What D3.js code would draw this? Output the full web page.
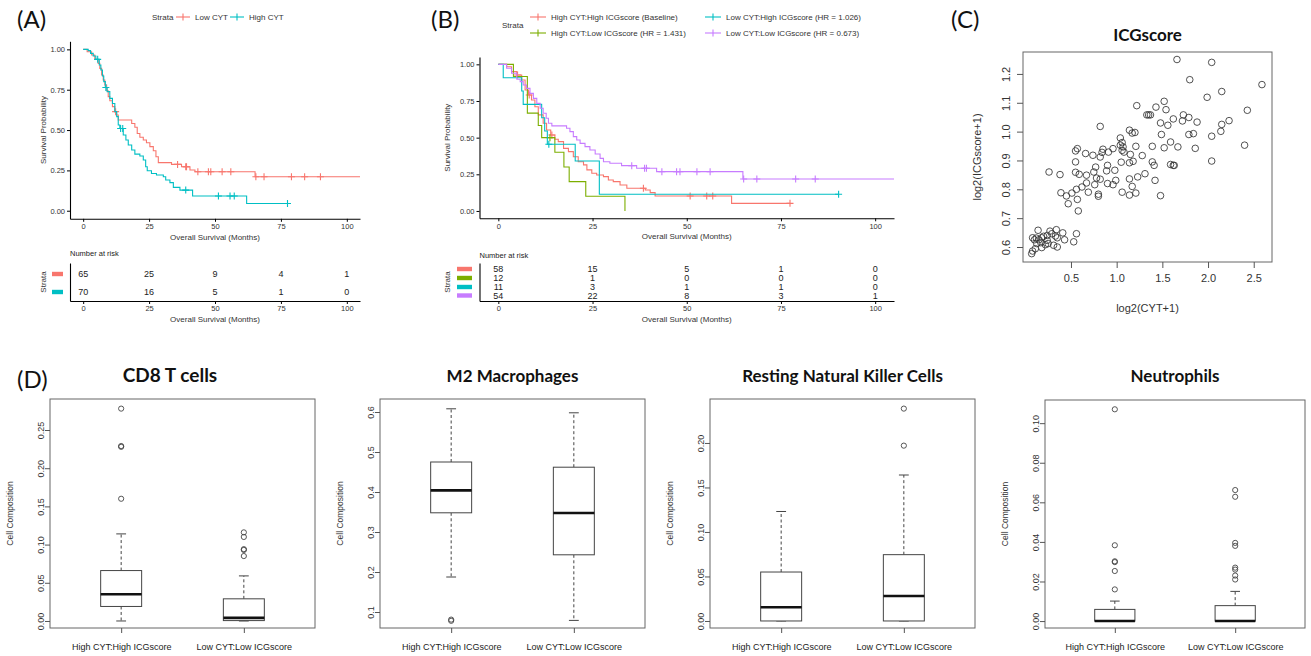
<!DOCTYPE html>
<html>
<head>
<meta charset="utf-8">
<script src="https://cdn.jsdelivr.net/npm/d3@7"></script>
<style>
  body { margin: 0; background: #fff; }
  text { font-family: "Liberation Sans", Arial, sans-serif; }
</style>
</head>
<body>
<svg id="fig" width="1311" height="656"></svg>
<script>
// ---------- data ----------
var kmXTicks = [0, 25, 50, 75, 100];
var kmYTicks = [0, 0.25, 0.5, 0.75, 1];

// (A) Low CYT vs High CYT
var aLowT = [0,1.5,3.2,4.4,5.7,6.3,7.0,7.6,8.2,8.9,9.5,10.1,11.1,12.0,12.7,13.3,18.4,19.6,20.5,21.5,22.8,24.0,25.3,26.6,27.6,28.5,33.5,37.3,40.5,42.4,65.2];
var aLowS = [1,0.985,0.965,0.938,0.913,0.882,0.841,0.81,0.779,0.744,0.707,0.682,0.645,0.614,0.593,0.562,0.541,0.517,0.479,0.455,0.438,0.421,0.397,0.372,0.335,0.298,0.287,0.273,0.252,0.242,0.211];
var aLowCens = [12.3,35.8,38.9,39.2,43.5,47.5,48.4,52.7,56.0,65.5,68.6,79.0,84.0,90.0];
var aLowEnd = 105;
var aHighT = [0,1.9,2.8,3.8,4.8,6.1,6.7,7.3,7.8,8.4,9.1,10.1,11.1,12.0,12.7,13.3,13.9,15.2,16.2,17.1,18.4,19.6,21.5,22.8,23.7,24.3,25.9,27.8,30.4,31.3,32.9,34.2,36.7,41.5,62.0];
var aHighS = [1,0.992,0.975,0.959,0.938,0.903,0.872,0.835,0.80,0.764,0.738,0.696,0.665,0.614,0.583,0.531,0.51,0.469,0.438,0.407,0.376,0.351,0.339,0.314,0.273,0.248,0.231,0.221,0.211,0.19,0.174,0.145,0.128,0.091,0.045];
var aHighCens = [5.5,8.6,14.2,15.0,38.9,51.3,55.7,57.3,77.5];
var aHighEnd = 77.5;
var aStrata = ["Low CYT", "High CYT"];
var aRisk = [[65,25,9,4,1],[70,16,5,1,0]];

// (B) four CYT:ICGscore groups
var bRedT = [0,2.2,3.5,4.9,6.2,7.1,8.0,8.8,9.7,10.6,11.9,12.8,13.9,15.0,15.9,17.3,18.6,19.9,21.2,22.6,23.5,24.8,26.1,27.9,29.2,30.5,32.3,34.1,39.0,40.3,41.6,61.9];
var bRedS = [1,0.984,0.95,0.927,0.893,0.825,0.791,0.757,0.711,0.655,0.598,0.552,0.518,0.489,0.473,0.427,0.405,0.37,0.336,0.314,0.28,0.257,0.245,0.234,0.211,0.20,0.177,0.155,0.143,0.125,0.102,0.052];
var bRedCens = [5.1,8.2,14.2,38.5,50.9,55.3,56.9,77.4];
var bRedEnd = 77.4;
var bGreenT = [0,4.0,7.7,10.6,11.5,15.0,17.4,18.8,23.2,33.6];
var bGreenS = [1,0.917,0.667,0.583,0.50,0.40,0.30,0.20,0.10,0];
var bGreenCens = [13.7];
var bGreenEnd = 33.6;
var bCyanT = [0,1.3,6.2,6.6,11.5,12.3,13.0,20.4,26.8];
var bCyanS = [1,0.909,0.818,0.727,0.636,0.545,0.455,0.341,0.114];
var bCyanCens = [13.4,90.3];
var bCyanEnd = 90.3;
var bPurpleT = [0,2.2,3.5,4.9,5.8,6.6,7.5,8.4,9.3,10.2,11.1,11.9,12.7,13.3,14.2,18.1,19.0,19.9,20.8,21.7,23.0,24.3,25.7,27.0,27.9,29.6,32.7,36.7,42.0,64.9];
var bPurpleS = [1,0.973,0.939,0.898,0.882,0.859,0.836,0.802,0.768,0.734,0.70,0.666,0.632,0.598,0.58,0.564,0.541,0.507,0.484,0.461,0.439,0.416,0.389,0.359,0.336,0.325,0.309,0.291,0.268,0.218];
var bPurpleCens = [35.4,38.8,39.3,43.4,47.3,48.2,52.7,56.2,65.1,68.6,78.9,84.1];
var bPurpleEnd = 105;
var bStrata = ["High CYT:High ICGscore (Baseline)", "High CYT:Low ICGscore (HR = 1.431)",
               "Low CYT:High ICGscore (HR = 1.026)", "Low CYT:Low ICGscore (HR = 0.673)"];
var bRisk = [[58,15,5,1,0],[12,1,0,0,0],[11,3,1,1,0],[54,22,8,3,1]];

// (C) scatter
var cytVals = [1.66,2.04,1.80,2.59,2.15,1.99,1.52,1.22,1.43,1.54,2.43,1.33,1.35,1.37,1.73,1.79,1.62,1.48,1.56,1.72,
  1.88,2.23,2.15,2.14,1.79,1.84,1.49,2.04,1.14,1.17,1.20,0.82,1.04,0.96,0.91,0.85,0.84,1.04,1.06,1.07,
  1.06,1.08,1.21,1.39,1.52,1.59,1.67,1.86,2.40,0.57,0.55,0.66,0.82,0.74,1.28,1.15,1.05,1.14,1.18,1.39,
  1.41,1.59,1.62,1.63,2.04,0.26,0.38,0.55,0.59,0.67,0.55,0.75,0.77,0.78,0.89,0.98,0.90,1.31,1.23,1.14,
  1.42,0.96,0.99,0.82,0.76,0.67,0.62,0.56,0.69,0.39,0.45,0.51,0.47,0.57,0.90,0.80,0.80,1.06,1.14,1.17,
  1.21,1.48,0.58,0.08,0.10,0.12,0.14,0.15,0.18,0.17,0.11,0.08,0.07,0.20,0.24,0.24,0.22,0.27,0.29,0.25,
  0.34,0.33,0.35,0.31,0.35,0.18,0.41,0.43,0.53,0.56,0.125];
var icgVals = [1.25,1.24,1.18,1.163,1.139,1.119,1.105,1.09,1.085,1.076,1.074,1.058,1.058,1.058,1.058,1.049,1.044,1.03,1.022,1.037,
  1.033,1.038,1.025,1.001,0.99,0.993,0.99,0.984,1.005,0.995,0.997,1.018,0.978,0.941,0.929,0.939,0.928,0.953,0.962,0.947,
  0.935,0.929,0.949,0.949,0.944,0.964,0.947,0.942,0.953,0.941,0.933,0.924,0.912,0.918,0.917,0.921,0.894,0.892,0.897,0.895,
  0.883,0.886,0.883,0.883,0.898,0.86,0.851,0.859,0.852,0.849,0.895,0.86,0.877,0.839,0.864,0.866,0.883,0.854,0.843,0.836,
  0.831,0.816,0.831,0.835,0.816,0.822,0.808,0.80,0.79,0.788,0.777,0.787,0.75,0.765,0.82,0.776,0.783,0.79,0.78,0.81,
  0.787,0.778,0.725,0.632,0.625,0.631,0.658,0.625,0.632,0.615,0.594,0.586,0.577,0.637,0.64,0.623,0.608,0.655,0.646,0.612,
  0.66,0.638,0.632,0.606,0.60,0.598,0.649,0.625,0.618,0.646,0.612];
var cXTicks = [0.5, 1.0, 1.5, 2.0, 2.5];
var cYTicks = [0.6, 0.7, 0.8, 0.9, 1.0, 1.1, 1.2];

// (D) box plots: [lower whisker, Q1, median, Q3, upper whisker]
var boxGroups = ["High CYT:High ICGscore", "Low CYT:Low ICGscore"];
var boxTitles = ["CD8 T cells", "M2 Macrophages", "Resting Natural Killer Cells", "Neutrophils"];
var cd8High = [0, 0.019, 0.035, 0.066, 0.114], cd8HighOut = [0.278, 0.229, 0.228, 0.16];
var cd8Low = [0, 0.0005, 0.004, 0.029, 0.059], cd8LowOut = [0.116, 0.110, 0.094, 0.093, 0.085];
var m2High = [0.1875, 0.348, 0.404, 0.475, 0.608], m2HighOut = [0.081, 0.078];
var m2Low = [0.079, 0.243, 0.3475, 0.462, 0.598], m2LowOut = [];
var nkHigh = [0, 0, 0.0154, 0.055, 0.123], nkHighOut = [];
var nkLow = [0, 0, 0.028, 0.0745, 0.164], nkLowOut = [0.2386, 0.197];
var neuHigh = [0, 0, 0, 0.0059, 0.0101], neuHighOut = [0.107, 0.0383, 0.0302, 0.0298, 0.0253, 0.016];
var neuLow = [0, 0, 0, 0.0078, 0.015], neuLowOut = [0.0662, 0.0628, 0.0395, 0.038, 0.027, 0.026, 0.023, 0.021];
var cd8Ticks = [0, 0.05, 0.10, 0.15, 0.20, 0.25];
var m2Ticks = [0.1, 0.2, 0.3, 0.4, 0.5, 0.6];
var nkTicks = [0, 0.05, 0.10, 0.15, 0.20];
var neuTicks = [0, 0.02, 0.04, 0.06, 0.08, 0.10];

// ggplot default hues
var RED = "#F8766D", GREEN = "#7CAE00", CYAN = "#00BFC4", PURPLE = "#C77CFF";
var TITLE_FONT = "Lato, 'Open Sans', sans-serif";

var svg = d3.select("#fig");

// ---------- helpers ----------
function survAt(times, surv, t) {
  var s = surv[0];
  for (var i = 0; i < times.length; i++) if (times[i] <= t) s = surv[i];
  return s;
}

function styleAxis(g, size) {
  g.select(".domain").attr("stroke", "#000").attr("stroke-width", 1.1);
  g.selectAll(".tick line").attr("stroke", "#000");
  g.selectAll(".tick text").attr("fill", "#333").style("font-size", size + "px")
    .style("font-family", "'Liberation Sans', Arial, sans-serif");
}

function kmPanel(o) {
  var x = d3.scaleLinear().domain([-5, 105]).range([o.x0, o.x1]);
  var y = d3.scaleLinear().domain([-0.05, 1.05]).range([o.yb, o.yt]);
  var g = svg.append("g");
  var line = d3.line().x(d => x(d[0])).y(d => y(d[1])).curve(d3.curveStepAfter);

  o.curves.forEach(function (c) {
    var pts = c.t.map((t, i) => [t, c.s[i]]);
    pts.push([c.end, c.s[c.s.length - 1]]);
    g.append("path").datum(pts).attr("d", line)
      .attr("fill", "none").attr("stroke", c.color).attr("stroke-width", 1.1);
    g.selectAll(null).data(c.cens).enter().append("path")
      .attr("d", function (t) {
        var cx = x(t), cy = y(survAt(c.t, c.s, t));
        return "M" + (cx - 3.5) + "," + cy + "h7M" + cx + "," + (cy - 3.5) + "v7";
      })
      .attr("stroke", c.color).attr("stroke-width", 1.1);
  });

  var ya = g.append("g").attr("transform", "translate(" + o.x0 + ",0)")
    .call(d3.axisLeft(y).tickValues(kmYTicks).tickFormat(d3.format(".2f")).tickSize(3).tickSizeOuter(0).tickPadding(2));
  styleAxis(ya, 7.5);
  var xa = g.append("g").attr("transform", "translate(0," + o.yb + ")")
    .call(d3.axisBottom(x).tickValues(kmXTicks).tickSize(3).tickSizeOuter(0).tickPadding(2));
  styleAxis(xa, 7.5);

  g.append("text").attr("transform", "translate(" + o.ylabX + "," + (o.yt + o.yb) / 2 + ") rotate(-90)")
    .attr("text-anchor", "middle").attr("dy", "0.35em").style("font-size", "8px").attr("fill", "#333")
    .text("Survival Probability");
  g.append("text").attr("x", (o.x0 + o.x1) / 2).attr("y", o.yb + 21)
    .attr("text-anchor", "middle").style("font-size", "8px").attr("fill", "#333")
    .text("Overall Survival (Months)");

  // number at risk table
  var t = svg.append("g");
  t.append("text").attr("x", o.x0).attr("y", o.riskTitleY).style("font-size", "7.5px").attr("fill", "#222")
    .text("Number at risk");
  o.risk.forEach(function (row, r) {
    var ry = o.riskRows[r];
    t.append("rect").attr("x", o.swX).attr("y", ry - 2.2).attr("width", o.swW).attr("height", 4.4)
      .attr("fill", o.curves[r].color);
    t.selectAll(null).data(row).enter().append("text")
      .attr("x", (d, i) => x(kmXTicks[i])).attr("y", ry).attr("dy", "0.35em")
      .attr("text-anchor", "middle").style("font-size", o.riskFont + "px").attr("fill", "#222")
      .text(d => d);
  });
  var ry = d3.scaleLinear().range([o.riskBottom, o.riskTop]);
  var tya = t.append("g").attr("transform", "translate(" + o.x0 + ",0)")
    .call(d3.axisLeft(ry).tickValues([]).tickSizeOuter(0));
  styleAxis(tya, 7.5);
  var txa = t.append("g").attr("transform", "translate(0," + o.riskBottom + ")")
    .call(d3.axisBottom(x).tickValues(kmXTicks).tickSize(3).tickSizeOuter(0).tickPadding(2));
  styleAxis(txa, 7.5);
  t.append("text").attr("x", (o.x0 + o.x1) / 2).attr("y", o.riskBottom + 21)
    .attr("text-anchor", "middle").style("font-size", "8px").attr("fill", "#333")
    .text("Overall Survival (Months)");
  t.append("text").attr("transform", "translate(" + o.ylabX + "," + (o.riskTop + o.riskBottom) / 2 + ") rotate(-90)")
    .attr("text-anchor", "middle").attr("dy", "0.35em").style("font-size", "8px").attr("fill", "#333")
    .text("Strata");
}

function legendKey(g, x, y, color, label, w) {
  g.append("path").attr("d", "M" + x + "," + y + "h" + w).attr("stroke", color).attr("stroke-width", 1.1);
  g.append("path").attr("d", "M" + (x + w / 2) + "," + (y - 3.5) + "v7").attr("stroke", color).attr("stroke-width", 1.1);
  g.append("text").attr("x", x + w + 5).attr("y", y).attr("dy", "0.35em")
    .style("font-size", "8px").attr("fill", "#333").text(label);
}

function boxPanel(o) {
  var x = d3.scaleLinear().domain([0.42, 2.58]).range([o.left, o.right]);
  var y = d3.scaleLinear().domain(o.yDom).range([o.bottom, o.top]);
  var g = svg.append("g");
  var hw = x(1.167) - x(1), sw = x(1.04) - x(1);

  g.append("text").attr("x", o.titleX || (o.left + o.right) / 2).attr("y", 382).attr("text-anchor", "middle")
    .style("font-family", TITLE_FONT).style("font-weight", "700").style("font-size", (o.titleSize || 17) + "px")
    .attr("fill", "#111").text(o.title);

  o.stats.forEach(function (st, i) {
    var cx = x(i + 1);
    g.append("line").attr("x1", cx).attr("x2", cx).attr("y1", y(st[3])).attr("y2", y(st[4]))
      .attr("stroke", "#444").attr("stroke-dasharray", "3,2.5");
    g.append("line").attr("x1", cx).attr("x2", cx).attr("y1", y(st[1])).attr("y2", y(st[0]))
      .attr("stroke", "#444").attr("stroke-dasharray", "3,2.5");
    [st[0], st[4]].forEach(function (v) {
      g.append("line").attr("x1", cx - sw).attr("x2", cx + sw).attr("y1", y(v)).attr("y2", y(v))
        .attr("stroke", "#444");
    });
    g.append("rect").attr("x", cx - hw).attr("width", 2 * hw)
      .attr("y", y(st[3])).attr("height", Math.max(0.5, y(st[1]) - y(st[3])))
      .attr("fill", "#fff").attr("stroke", "#444");
    g.append("line").attr("x1", cx - hw).attr("x2", cx + hw).attr("y1", y(st[2])).attr("y2", y(st[2]))
      .attr("stroke", "#111").attr("stroke-width", 2.6);
    g.selectAll(null).data(o.outs[i]).enter().append("circle")
      .attr("cx", cx).attr("cy", d => y(d)).attr("r", 2.6)
      .attr("fill", "none").attr("stroke", "#444").attr("stroke-width", 0.9);
  });

  g.append("rect").attr("x", o.left).attr("y", o.top).attr("width", o.right - o.left).attr("height", o.bottom - o.top)
    .attr("fill", "none").attr("stroke", "#666").attr("stroke-width", 1);

  var ya = g.append("g").attr("transform", "translate(" + o.left + ",0)")
    .call(d3.axisLeft(y).tickValues(o.ticks).tickFormat(d3.format(o.fmt)).tickSize(5).tickSizeOuter(0));
  ya.select(".domain").remove();
  ya.selectAll(".tick line").attr("stroke", "#555");
  ya.selectAll(".tick text").attr("x", 0).attr("dy", 0).attr("text-anchor", "middle")
    .attr("transform", "translate(-6.5,0) rotate(-90)").attr("fill", "#333")
    .style("font-size", "9px").style("font-family", "'Liberation Sans', Arial, sans-serif");

  var xa = g.append("g").attr("transform", "translate(0," + o.bottom + ")")
    .call(d3.axisBottom(x).tickValues([1, 2]).tickFormat((d, i) => boxGroups[i]).tickSize(5).tickSizeOuter(0).tickPadding(11));
  xa.select(".domain").remove();
  xa.selectAll(".tick line").attr("stroke", "#555");
  xa.selectAll(".tick text").attr("fill", "#222").style("font-size", "9px")
    .style("font-family", "'Liberation Sans', Arial, sans-serif");

  g.append("text").attr("transform", "translate(" + (o.left - 37) + "," + (o.top + o.bottom) / 2 + ") rotate(-90)")
    .attr("text-anchor", "middle").style("font-size", "8.5px").attr("fill", "#333").text("Cell Composition");
}

// ---------- panel labels ----------
[["(A)", 17, 28], ["(B)", 431, 28], ["(C)", 951, 28], ["(D)", 17, 388]].forEach(function (p) {
  svg.append("text").attr("x", p[1]).attr("y", p[2]).style("font-family", TITLE_FONT)
    .style("font-size", "24px").attr("fill", "#111").text(p[0]);
});

// ---------- (A) ----------
kmPanel({
  x0: 70, x1: 360, yt: 41.3, yb: 218.8, ylabX: 43,
  curves: [
    { t: aLowT, s: aLowS, cens: aLowCens, end: aLowEnd, color: RED },
    { t: aHighT, s: aHighS, cens: aHighCens, end: aHighEnd, color: CYAN }
  ],
  risk: aRisk, riskRows: [274, 292], riskTitleY: 256, riskTop: 263, riskBottom: 301,
  riskFont: 9, swX: 52, swW: 11
});
var legA = svg.append("g");
legA.append("text").attr("x", 152).attr("y", 17).attr("dy", "0.35em").style("font-size", "8px")
  .attr("fill", "#333").text("Strata");
legendKey(legA, 176, 17, RED, aStrata[0], 14);
legendKey(legA, 230, 17, CYAN, aStrata[1], 14);

// ---------- (B) ----------
kmPanel({
  x0: 479.5, x1: 894, yt: 57, yb: 218.3, ylabX: 447,
  curves: [
    { t: bRedT, s: bRedS, cens: bRedCens, end: bRedEnd, color: RED },
    { t: bGreenT, s: bGreenS, cens: bGreenCens, end: bGreenEnd, color: GREEN },
    { t: bCyanT, s: bCyanS, cens: bCyanCens, end: bCyanEnd, color: CYAN },
    { t: bPurpleT, s: bPurpleS, cens: bPurpleCens, end: bPurpleEnd, color: PURPLE }
  ],
  risk: bRisk, riskRows: [269, 278, 287, 295.5], riskTitleY: 258, riskTop: 263, riskBottom: 301,
  riskFont: 9, swX: 457, swW: 15
});
var legB = svg.append("g");
legB.append("text").attr("x", 502).attr("y", 25).attr("dy", "0.35em").style("font-size", "8px")
  .attr("fill", "#333").text("Strata");
legendKey(legB, 530, 17, RED, bStrata[0], 16);
legendKey(legB, 530, 33, GREEN, bStrata[1], 16);
legendKey(legB, 705, 17, CYAN, bStrata[2], 16);
legendKey(legB, 705, 33, PURPLE, bStrata[3], 16);

// ---------- (C) ----------
(function () {
  var L = 1023, R = 1272, T = 52, B = 262;
  var x = d3.scaleLinear().domain([-0.025, 2.70]).range([L, R]);
  var y = d3.scaleLinear().domain([0.548, 1.276]).range([B, T]);
  var g = svg.append("g");
  g.append("text").attr("x", (L + R) / 2).attr("y", 41).attr("text-anchor", "middle")
    .style("font-family", TITLE_FONT).style("font-weight", "700").style("font-size", "17px")
    .attr("fill", "#111").text("ICGscore");
  g.selectAll("circle").data(cytVals).enter().append("circle")
    .attr("cx", d => x(d)).attr("cy", (d, i) => y(icgVals[i])).attr("r", 3.3)
    .attr("fill", "none").attr("stroke", "#333").attr("stroke-width", 0.85);
  g.append("rect").attr("x", L).attr("y", T).attr("width", R - L).attr("height", B - T)
    .attr("fill", "none").attr("stroke", "#666");
  var xa = g.append("g").attr("transform", "translate(0," + B + ")")
    .call(d3.axisBottom(x).tickValues(cXTicks).tickFormat(d3.format(".1f")).tickSize(6).tickPadding(6));
  xa.select(".domain").remove();
  xa.selectAll(".tick line").attr("stroke", "#555");
  xa.selectAll(".tick text").attr("fill", "#333").style("font-size", "11px")
    .style("font-family", "'Liberation Sans', Arial, sans-serif");
  var ya = g.append("g").attr("transform", "translate(" + L + ",0)")
    .call(d3.axisLeft(y).tickValues(cYTicks).tickFormat(d3.format(".1f")).tickSize(6));
  ya.select(".domain").remove();
  ya.selectAll(".tick line").attr("stroke", "#555");
  ya.selectAll(".tick text").attr("x", 0).attr("dy", 0).attr("text-anchor", "middle")
    .attr("transform", "translate(-13,0) rotate(-90)").attr("fill", "#333")
    .style("font-size", "11px").style("font-family", "'Liberation Sans', Arial, sans-serif");
  g.append("text").attr("x", (L + R) / 2).attr("y", 312).attr("text-anchor", "middle")
    .style("font-size", "11px").attr("fill", "#333").text("log2(CYT+1)");
  g.append("text").attr("transform", "translate(981," + (T + B) / 2 + ") rotate(-90)")
    .attr("text-anchor", "middle").style("font-size", "11px").attr("fill", "#333").text("log2(ICGscore+1)");
})();

// ---------- (D) ----------
boxPanel({ title: boxTitles[0], titleX: 170, titleSize: 19, left: 50, right: 315, top: 399, bottom: 628, yDom: [-0.0092, 0.2906],
  ticks: cd8Ticks, fmt: ".2f", stats: [cd8High, cd8Low], outs: [cd8HighOut, cd8LowOut] });
boxPanel({ title: boxTitles[1], left: 380, right: 645, top: 399, bottom: 628, yDom: [0.06, 0.6325],
  ticks: m2Ticks, fmt: ".1f", stats: [m2High, m2Low], outs: [m2HighOut, m2LowOut] });
boxPanel({ title: boxTitles[2], left: 710, right: 975, top: 399, bottom: 628, yDom: [-0.0079, 0.2494],
  ticks: nkTicks, fmt: ".2f", stats: [nkHigh, nkLow], outs: [nkHighOut, nkLowOut] });
boxPanel({ title: boxTitles[3], left: 1045, right: 1305, top: 400, bottom: 628, yDom: [-0.0035, 0.1117],
  ticks: neuTicks, fmt: ".2f", stats: [neuHigh, neuLow], outs: [neuHighOut, neuLowOut] });
</script>
</body>
</html>
